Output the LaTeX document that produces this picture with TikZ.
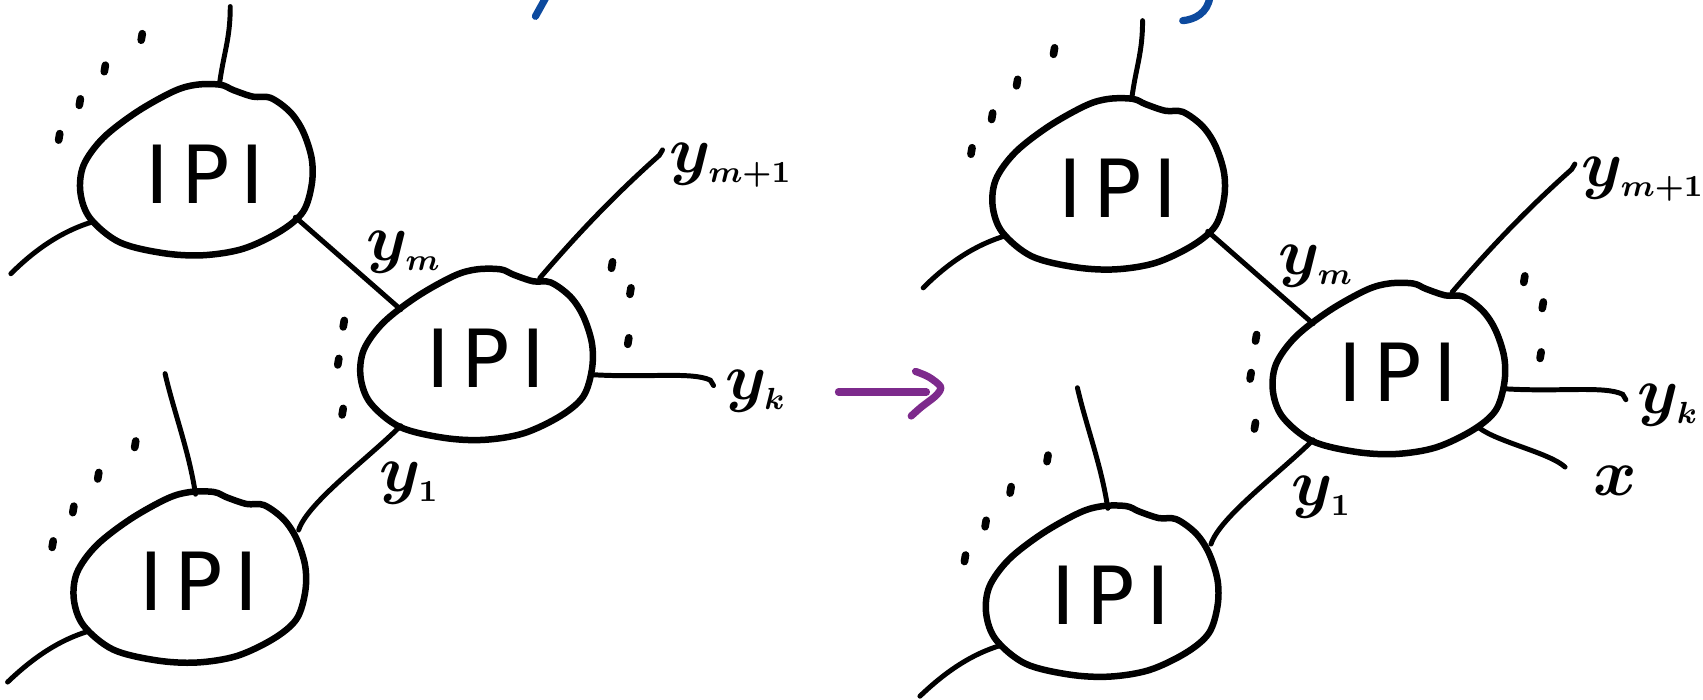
\documentclass[tikz,border=0pt]{standalone}
\usepackage{fontspec}
\setsansfont{DejaVu Sans}
\usetikzlibrary{calc}
\definecolor{inkblue}{HTML}{0D4A9E}
\definecolor{inkpurple}{HTML}{7D2A8C}

\begin{document}
\begin{tikzpicture}[
  x=0.01cm, y=-0.01cm,
  ipi/.style={font=\sffamily\fontsize{21}{23}\selectfont, inner sep=0pt},
  blob/.style={line width=1.7pt, line join=round},
  wire/.style={line width=1.3pt, line cap=round},
  speck/.style={line width=2pt, line cap=round},
  lbl/.style={font=\fontsize{17}{19}\selectfont\boldmath, inner sep=0pt},
  pen/.style={line width=1.9pt, line cap=round, line join=round},
]
  \useasboundingbox (0,0) rectangle (1568,644);

  %% IPI blobs, left picture and right picture
  \node[ipi] (AL) at (189,160)  {I\kern3pt P\kern3pt I};
  \node[ipi] (BL) at (183,535)  {I\kern3pt P\kern3pt I};
  \node[ipi] (CL) at (447,330)  {I\kern3pt P\kern3pt I};
  \node[ipi] (AR) at (1029,173) {I\kern3pt P\kern3pt I};
  \node[ipi] (BR) at (1023,548) {I\kern3pt P\kern3pt I};
  \node[ipi] (CR) at (1287,343) {I\kern3pt P\kern3pt I};

  \foreach \n in {AL,BL,CL,AR,BR,CR}
    \draw[blob, shift={(\n)}] plot[smooth cycle, tension=0.55] coordinates {
      (-8,-82) (14,-82) (26,-77) (44,-71) (60,-70) (78,-57) (90,-39) (98,-14)
      (98,10) (90,35) (69,53) (35,69) (-2,75) (-39,73) (-79,63) (-106,41)
      (-115,17) (-112,-8) (-94,-33) (-63,-57) (-29,-76)};

  %% legs, dots and labels, the same on both sides
  \foreach \s in {L,R} {
    \coordinate (A\s-n)  at ($(A\s)+(13,-82)$);
    \coordinate (A\s-up) at ($(A\s)+(23,-154)$);
    \coordinate (A\s-sw) at ($(A\s)+(-103,44)$);
    \coordinate (A\s-lo) at ($(A\s)+(-179,92)$);
    \coordinate (A\s-se) at ($(A\s)+(83,40)$);
    \coordinate (B\s-n)  at ($(B\s)+(-3,-80)$);
    \coordinate (B\s-up) at ($(B\s)+(-31,-191)$);
    \coordinate (B\s-sw) at ($(B\s)+(-101,46)$);
    \coordinate (B\s-lo) at ($(B\s)+(-176,93)$);
    \coordinate (B\s-ne) at ($(B\s)+(92,-47)$);
    \coordinate (C\s-nw) at ($(C\s)+(-78,-45)$);
    \coordinate (C\s-sw) at ($(C\s)+(-78,62)$);
    \coordinate (C\s-ne) at ($(C\s)+(50,-74)$);
    \coordinate (C\s-up) at ($(C\s)+(160,-187)$);
    \coordinate (C\s-e)  at ($(C\s)+(99,15)$);
    \coordinate (C\s-rt) at ($(C\s)+(207,20)$);

    \draw[wire] (A\s-n) .. controls ($(A\s-n)+(4,-30)$) and ($(A\s-up)+(0,30)$) .. (A\s-up);
    \draw[wire] (A\s-sw) .. controls ($(A\s)+(-130,52)$) and ($(A\s)+(-155,68)$) .. (A\s-lo);
    \draw[wire] (B\s-n) .. controls ($(B\s-n)+(-6,-40)$) and ($(B\s-up)+(8,35)$) .. (B\s-up);
    \draw[wire] (B\s-sw) .. controls ($(B\s)+(-128,54)$) and ($(B\s)+(-152,70)$) .. (B\s-lo);
    \draw[wire] (A\s-se) -- (C\s-nw);
    \draw[wire] (B\s-ne) .. controls ($(B\s-ne)+(8,-25)$) and ($(C\s-sw)+(-30,30)$) .. (C\s-sw);
    \draw[wire] (C\s-ne) .. controls ($(C\s-ne)+(30,-35)$) and ($(C\s-up)+(-45,40)$) .. (C\s-up) -- ++(3,-5);
    \draw[wire] (C\s-e) .. controls ($(C\s)+(150,18)$) and ($(C\s)+(190,12)$) .. (C\s-rt) -- ++(3,5);

    \foreach \u/\v in {-58/-129, -92/-100, -115/-69, -134/-37} {
      \draw[speck] ($(A\s)+(\u,\v)$) -- ++(-1,6);
      \draw[speck] ($(B\s)+(\u,\v)$) -- ++(-1,6);
    }
    \foreach \u/\v in {-130/-35, -135/0, -131/46, 117/-89, 134/-65, 132/-19}
      \draw[speck] ($(C\s)+(\u,\v)$) -- ++(-1,6);

    \node[lbl] (ym\s)   at ($(C\s)+(-75,-98)$) {$y_{\scriptscriptstyle m}$};
    \node[lbl] (ymp\s)  at ($(C\s)+(226,-178)$) {$y_{\scriptscriptstyle m+1}$};
    \node[lbl] (yk\s)   at ($(C\s)+(249,30)$)  {$y_{\scriptscriptstyle k}$};
    \node[lbl] (yone\s) at ($(C\s)+(-70,115)$) {$y_{\scriptscriptstyle 1}$};
  }

  %% extra leg on the right
  \coordinate (CR-se) at ($(CR)+(75,51)$);
  \coordinate (CR-dn) at ($(CR)+(154,87)$);
  \draw[wire] (CR-se) .. controls ($(CR)+(92,64)$) and ($(CR)+(140,74)$) .. (CR-dn);
  \node[lbl] (xR) at ($(CR)+(200,100)$) {$x$};

  %% purple arrow
  \coordinate (go)  at (772,361);
  \coordinate (tip) at (853,361);
  \draw[pen, inkpurple] (go) -- (tip);
  \draw[pen, inkpurple] plot[smooth] coordinates {(843,342) (855,347) (866,356) (862,364) (848,375) (839,383)};

  %% blue strokes cut at the top
  \draw[pen, inkblue] (503,-3) -- (493,15);
  \draw[pen, inkblue] (1114,-3) .. controls (1112,12) and (1100,18) .. (1089,19);
\end{tikzpicture}
\end{document}
